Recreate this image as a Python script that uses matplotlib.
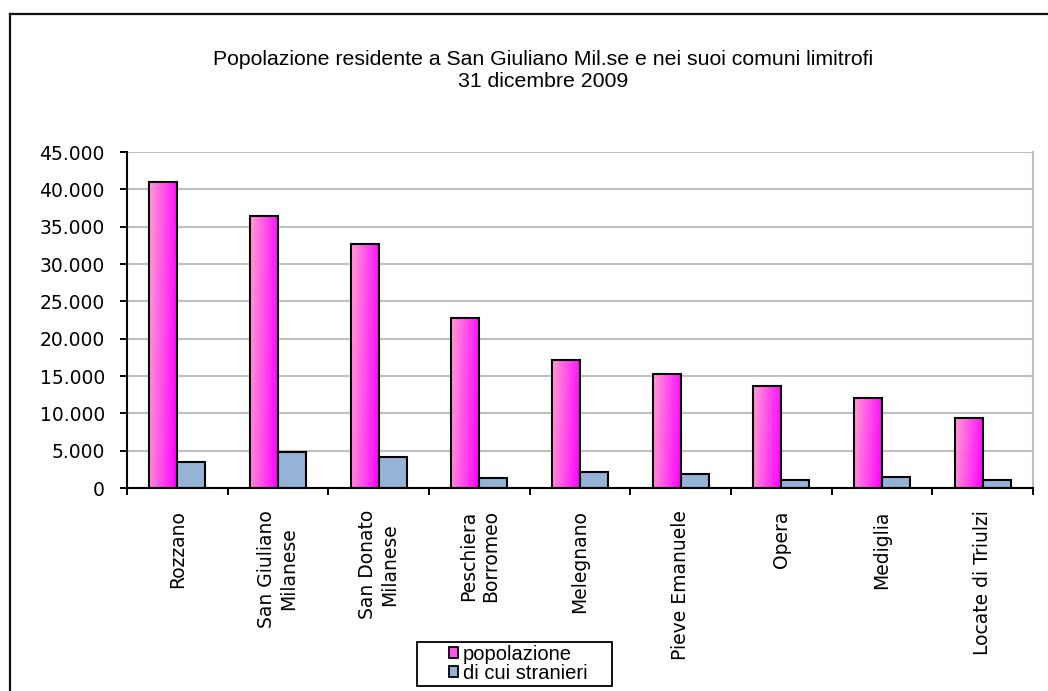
import numpy as np
import matplotlib
matplotlib.use("Agg")
import matplotlib.pyplot as plt
from matplotlib.colors import LinearSegmentedColormap
from matplotlib.lines import Line2D
from matplotlib.ticker import FuncFormatter, MultipleLocator
from matplotlib.patches import Patch, Rectangle

# data
comuni = [
    "Rozzano",
    "San Giuliano\nMilanese",
    "San Donato\nMilanese",
    "Peschiera\nBorromeo",
    "Melegnano",
    "Pieve Emanuele",
    "Opera",
    "Mediglia",
    "Locate di Triulzi",
]
popolazione = [40950, 36450, 32650, 22800, 17150, 15300, 13700, 12100, 9400]
stranieri = [3450, 4800, 4100, 1380, 2180, 1900, 1120, 1420, 1120]

NARROW = ["Liberation Sans Narrow", "Liberation Sans", "DejaVu Sans"]
PINK_L, PINK_R = "#FF9ED3", "#FF00FF"
BLUE = "#95B3D7"
GRID = "#C0C0C0"

W, H, DPI = 1048, 691, 100
fig = plt.figure(figsize=(W / DPI, H / DPI), dpi=DPI, facecolor="white")
ax = fig.add_axes([127 / W, 1 - 488 / H, (1033 - 127) / W, (488 - 152) / H])

x = np.arange(len(comuni))
bw = 0.277
pink_cmap = LinearSegmentedColormap.from_list("pinkgrad", [PINK_L, PINK_R])

bars_p = ax.bar(x - bw / 2, popolazione, bw, facecolor="none",
                edgecolor="black", linewidth=1.5, zorder=3)
bars_s = ax.bar(x + bw / 2, stranieri, bw, facecolor=BLUE,
                edgecolor="black", linewidth=1.5, zorder=3)

# gradient fill inside each pink bar
grad = np.add.outer(np.linspace(0.15, 0.0, 40), np.linspace(0, 1, 64))
grad = np.clip(grad / grad.max(), 0, 1)
for b in bars_p:
    x0, w, h = b.get_x(), b.get_width(), b.get_height()
    ax.imshow(grad, cmap=pink_cmap, extent=[x0, x0 + w, 0, h],
              aspect="auto", origin="lower", zorder=2.5, interpolation="bilinear")

ax.set_xlim(-0.5, len(comuni) - 0.5)
ax.set_ylim(0, 45000)
ax.yaxis.set_major_locator(MultipleLocator(5000))
ax.yaxis.set_major_formatter(FuncFormatter(lambda v, p: f"{int(v):,}".replace(",", ".")))
ax.grid(axis="y", color=GRID, linewidth=1.5, zorder=0)
ax.set_axisbelow(True)

ax.set_xticks(x)
ax.set_xticklabels(comuni, rotation=90, ha="center", va="top", fontsize=13.5)
ax.set_xticks(np.arange(len(comuni) + 1) - 0.5, minor=True)
ax.tick_params(axis="x", which="major", length=0, pad=16)
ax.tick_params(axis="x", which="minor", length=5, width=1.4, direction="out")
ax.tick_params(axis="y", length=5, width=1.4, labelsize=13.5, pad=11)

for side in ("left", "bottom"):
    ax.spines[side].set_linewidth(1.5)
    ax.spines[side].set_color("black")
    ax.spines[side].set_zorder(4)
ax.spines["right"].set_color(GRID)
ax.spines["right"].set_linewidth(1.5)
ax.spines["top"].set_visible(False)

fig.text(543 / W, 1 - 70.5 / H,
         "Popolazione residente a San Giuliano Mil.se e nei suoi comuni limitrofi\n31 dicembre 2009",
         ha="center", va="center", fontsize=15.3, family=NARROW, linespacing=1.18)

# legend: entries without frame, plus a plain box drawn around them
handles = [Patch(facecolor="#FF55EE", edgecolor="black", linewidth=1.3),
           Patch(facecolor=BLUE, edgecolor="black", linewidth=1.3)]
leg = fig.legend(handles, ["popolazione", "di cui stranieri"], loc="center",
                 bbox_to_anchor=(518 / W, 1 - 664 / H), frameon=False,
                 prop={"family": NARROW, "size": 14.5}, handlelength=0.45, handleheight=0.45,
                 handletextpad=0.25, labelspacing=0.0, borderpad=0.1, borderaxespad=0)
fig.add_artist(Rectangle((417 / W, 1 - 686 / H), 195 / W, 44 / H, transform=fig.transFigure,
                         facecolor="none", edgecolor="black", linewidth=1.3))

# outer chart frame (cut off at right and bottom)
fig.add_artist(Line2D([10 / W, 10 / W], [-0.05, 1 - 14 / H], color="#111111", linewidth=1.6))
fig.add_artist(Line2D([10 / W, 1.05], [1 - 14 / H, 1 - 14 / H], color="#111111", linewidth=1.6))

fig.savefig("out.png", dpi=DPI, facecolor="white")
